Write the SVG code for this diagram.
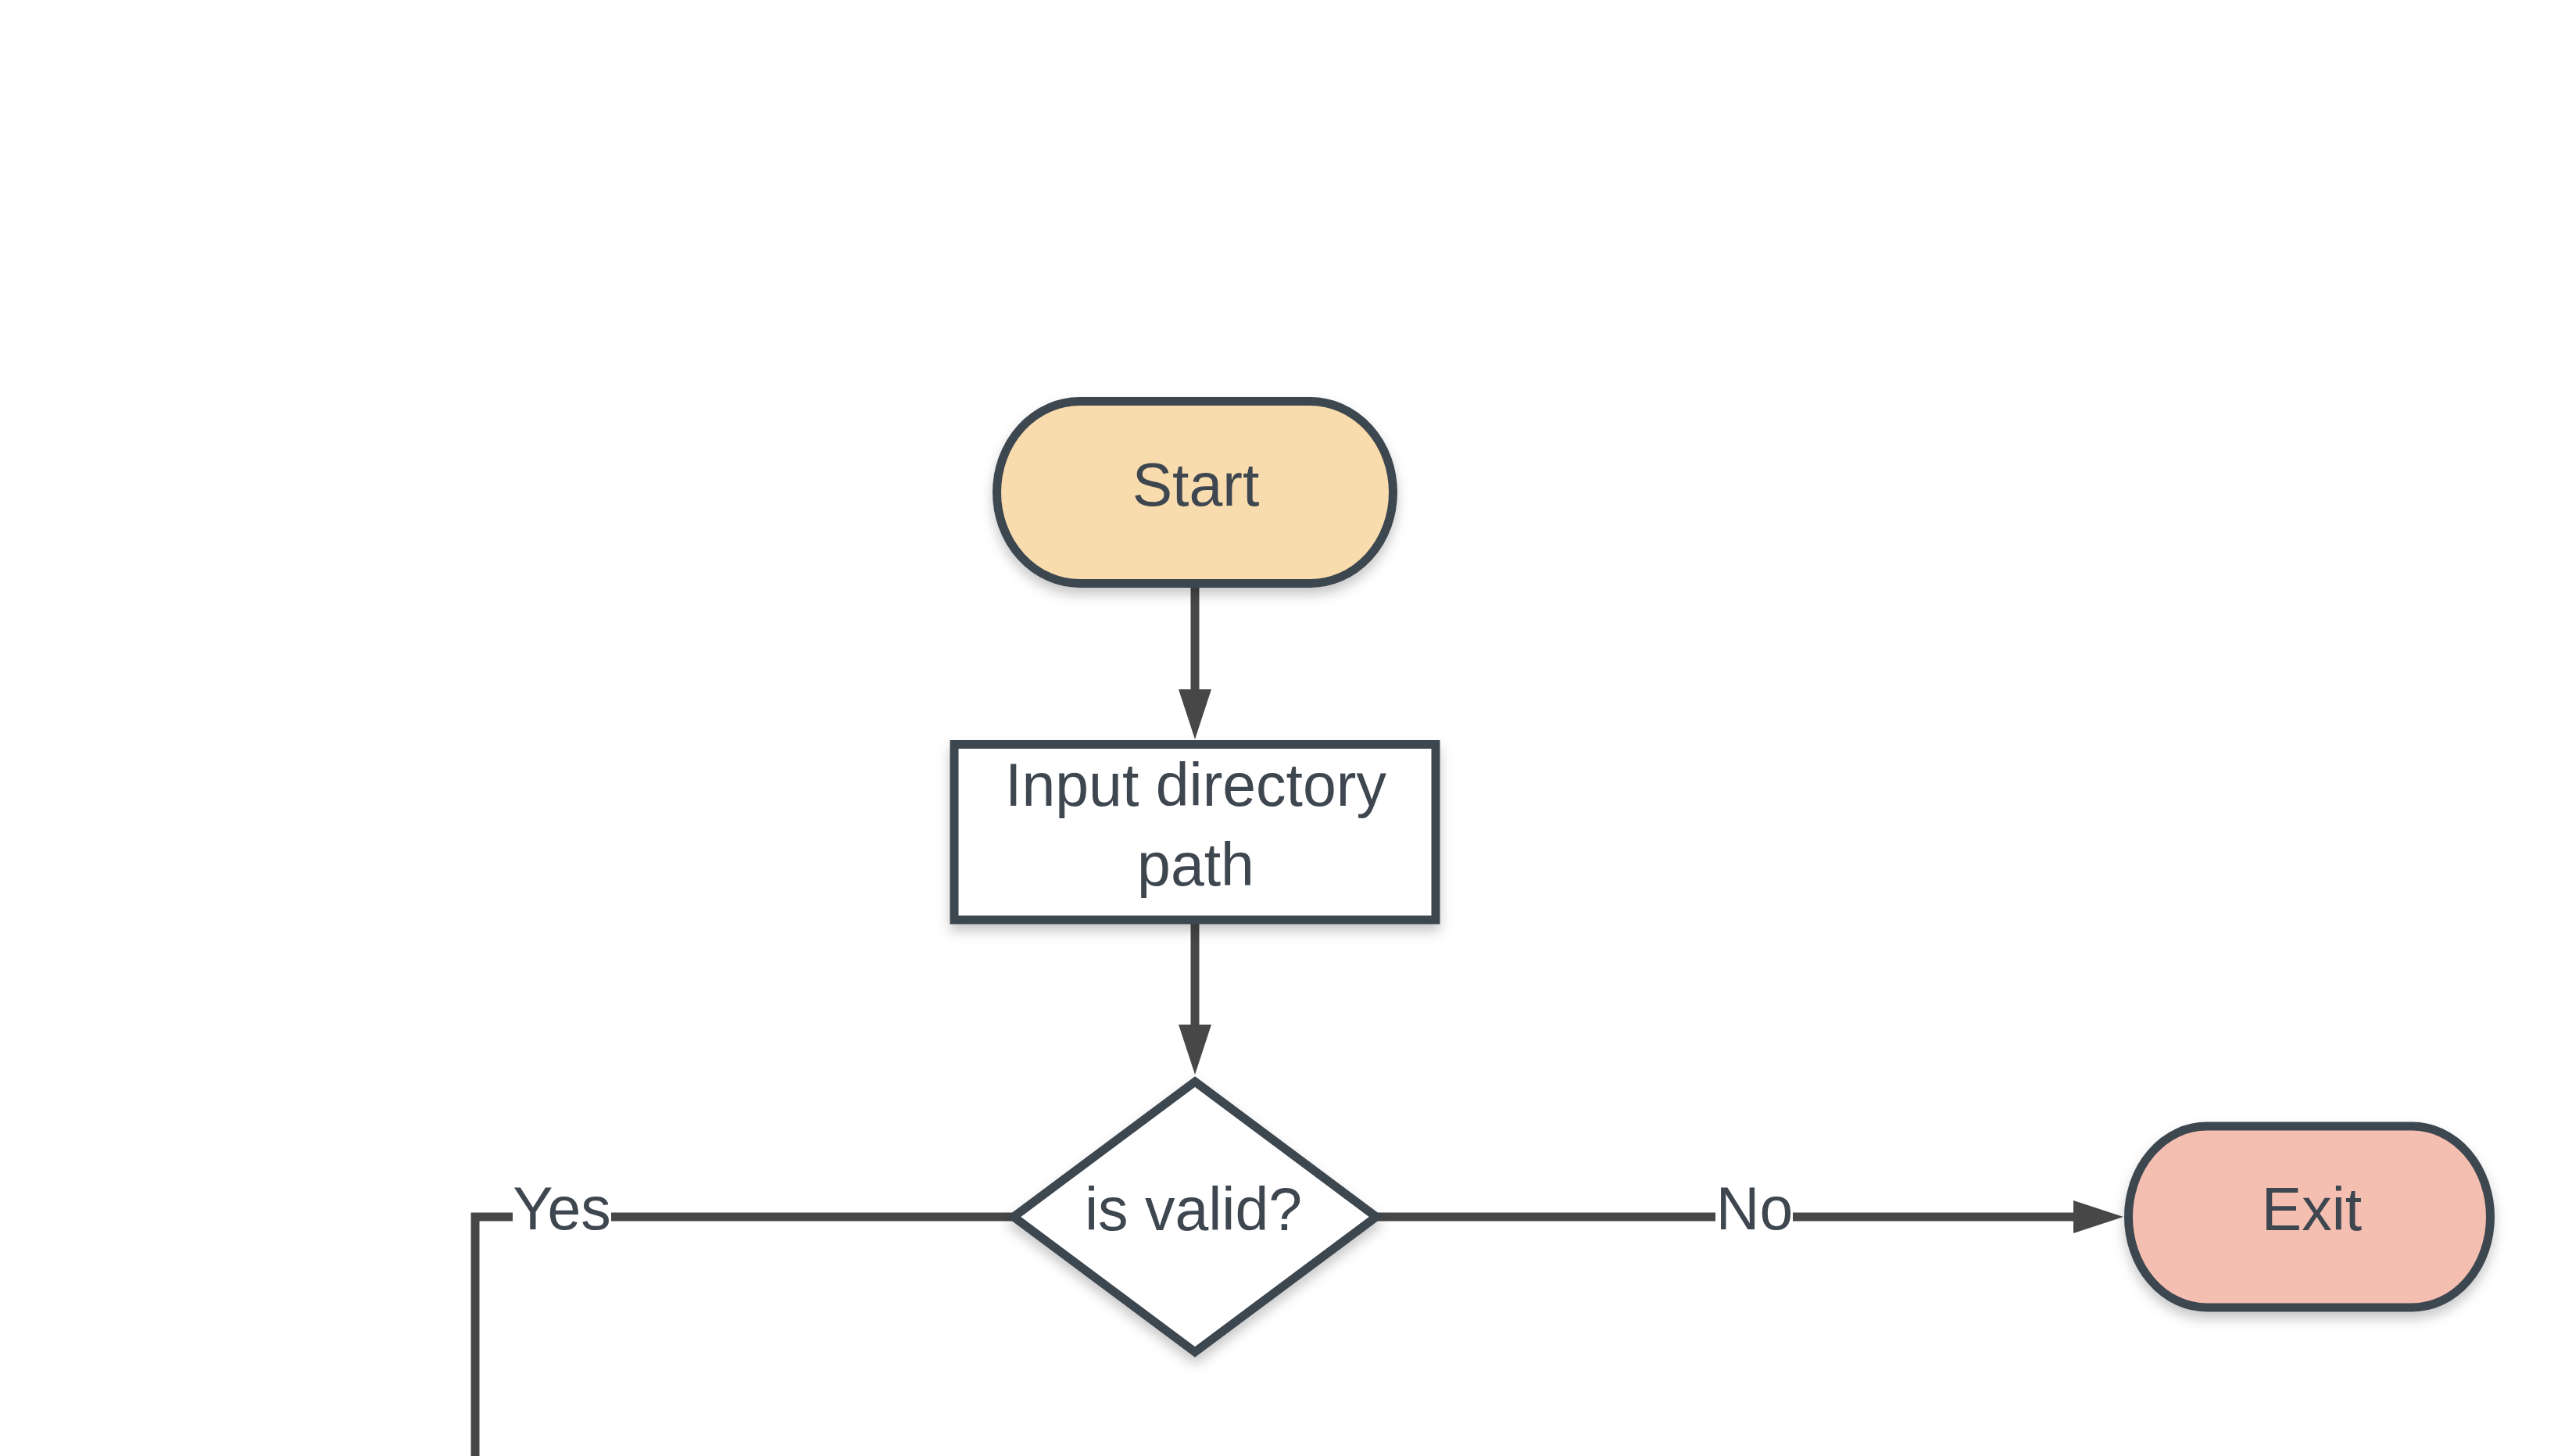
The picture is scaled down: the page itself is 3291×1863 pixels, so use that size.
<svg xmlns="http://www.w3.org/2000/svg" width="3291" height="1863" viewBox="0 0 3291 1863">
<defs>
<filter id="shadow" x="-20%" y="-20%" width="140%" height="150%">
<feDropShadow dx="0" dy="9" stdDeviation="8" flood-color="#000000" flood-opacity="0.22"/>
</filter>
<marker id="arrow" markerUnits="userSpaceOnUse" markerWidth="64" markerHeight="42" refX="0" refY="21" orient="auto" viewBox="0 0 64 42">
<path d="M0,0 L64,21 L0,42 Z" fill="#474747"/>
</marker>
</defs>
<style>
.shape{stroke:#3e4650;stroke-width:11;filter:url(#shadow);}
.lbl{font-family:"Liberation Sans",Arial,sans-serif;font-size:77px;fill:#3e4650;text-anchor:middle;}
.conn{fill:none;stroke:#474747;stroke-width:11;}
</style>
<rect width="3291" height="1863" fill="#ffffff"/>
<g id="connectors">
<line class="conn" x1="1529" y1="752" x2="1529" y2="882" marker-end="url(#arrow)"/>
<line class="conn" x1="1529" y1="1182" x2="1529" y2="1311" marker-end="url(#arrow)"/>
<polyline class="conn" points="1297,1557 608,1557 608,1875" stroke-linejoin="miter"/>
<line class="conn" x1="1760" y1="1557" x2="2653" y2="1557" marker-end="url(#arrow)"/>
<rect x="656" y="1518" width="126" height="72" fill="#ffffff"/>
<text class="lbl" x="719" y="1573">Yes</text>
<rect x="2195" y="1518" width="99" height="72" fill="#ffffff"/>
<text class="lbl" x="2245" y="1573">No</text>
</g>
<g id="start">
<rect class="shape" x="1275.5" y="513.5" width="507" height="233" rx="106" ry="116.5" fill="#f9dcad"/>
<text class="lbl" x="1530" y="647">Start</text>
</g>
<g id="input">
<rect class="shape" x="1221" y="952.5" width="616" height="224.5" fill="#ffffff"/>
<text class="lbl" x="1530" y="1031">Input directory</text>
<text class="lbl" x="1530" y="1133">path</text>
</g>
<g id="valid">
<polygon class="shape" points="1529,1384 1761,1557 1529,1730 1297,1557" fill="#ffffff" stroke-linejoin="miter"/>
<text class="lbl" x="1527" y="1574">is valid?</text>
</g>
<g id="exit">
<rect class="shape" x="2723.5" y="1441" width="463" height="232" rx="100" ry="116" fill="#f4beb1"/>
<text class="lbl" x="2958" y="1574">Exit</text>
</g>
</svg>
